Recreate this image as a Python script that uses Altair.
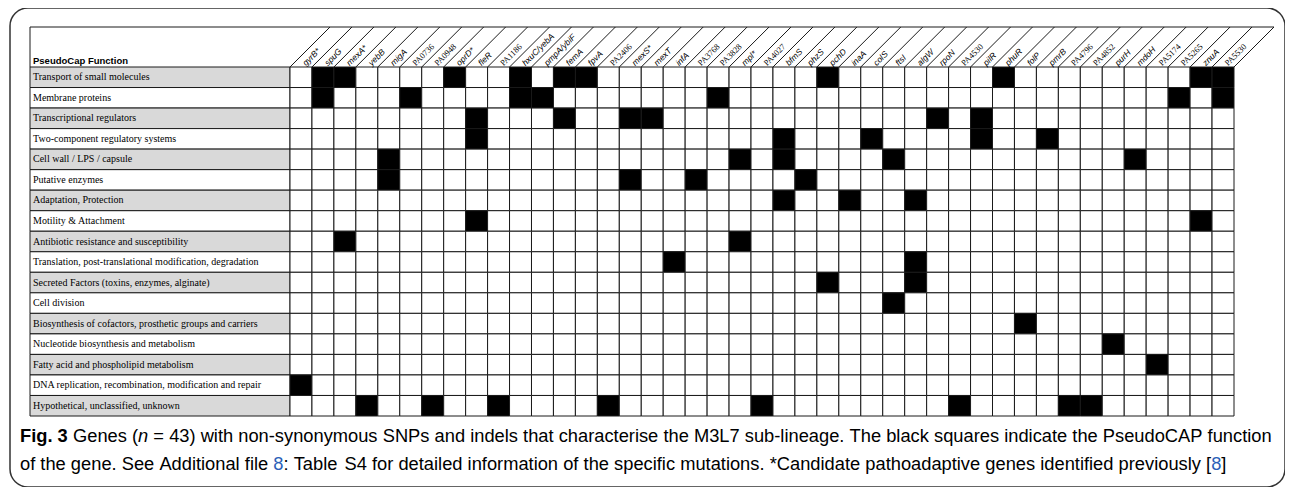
import re
import altair as alt
import pandas as pd

# ---------------- data ----------------
GENES = [
    "gyrB*", "spuG", "mexA*", "yebB", "migA", "PA0736", "PA0948", "oprD*", "fleR",
    "PA1186", "hxuC/yebA", "pmpA/ybiF", "femA", "fpvA", "PA2406", "mexS*", "mexT",
    "infA", "PA3768", "PA3828", "mpl*", "PA4027", "bfmS", "phzS", "pchD", "inaA",
    "colS", "ftsI", "algW", "rpoN", "PA4530", "pilR", "phuR", "folP", "pmrB",
    "PA4796", "PA4852", "purH", "mdoH", "PA5174", "PA5265", "znuA", "PA5530",
]

FUNCTIONS = [
    "Transport of small molecules",
    "Membrane proteins",
    "Transcriptional regulators",
    "Two-component regulatory systems",
    "Cell wall / LPS / capsule",
    "Putative enzymes",
    "Adaptation, Protection",
    "Motility & Attachment",
    "Antibiotic resistance and susceptibility",
    "Translation, post-translational modification, degradation",
    "Secreted Factors (toxins, enzymes, alginate)",
    "Cell division",
    "Biosynthesis of cofactors, prosthetic groups and carriers",
    "Nucleotide biosynthesis and metabolism",
    "Fatty acid and phospholipid metabolism",
    "DNA replication, recombination, modification and repair",
    "Hypothetical, unclassified, unknown",
]

MEMBERS = [
    ["spuG", "mexA*", "oprD*", "hxuC/yebA", "femA", "fpvA", "pchD", "phuR", "znuA", "PA5530"],
    ["spuG", "PA0736", "hxuC/yebA", "pmpA/ybiF", "PA3828", "PA5265", "PA5530"],
    ["fleR", "femA", "mexS*", "mexT", "rpoN", "pilR"],
    ["fleR", "bfmS", "colS", "pilR", "pmrB"],
    ["migA", "mpl*", "bfmS", "ftsI", "mdoH"],
    ["migA", "mexS*", "PA3768", "phzS"],
    ["bfmS", "inaA", "algW"],
    ["fleR", "znuA"],
    ["mexA*", "mpl*"],
    ["infA", "algW"],
    ["pchD", "algW"],
    ["ftsI"],
    ["folP"],
    ["purH"],
    ["PA5174"],
    ["gyrB*"],
    ["yebB", "PA0948", "PA1186", "PA2406", "PA4027", "PA4530", "PA4796", "PA4852"],
]

HEADER_TITLE = "PseudoCap Function"
CAPTION_FIG = "Fig. 3"
# caption pieces: (text, style)
CAPTION_LINE_1 = [
    ("Genes (", "normal"), ("n", "italic"),
    (" = 43) with non-synonymous SNPs and indels that characterise the M3L7 sub-lineage. "
     "The black squares indicate the PseudoCAP function", "normal"),
]
CAPTION_LINE_2 = [
    ("of the gene. See Additional file ", "normal"), ("8", "link"),
    (": Table S4 for detailed information of the specific mutations. "
     "*Candidate pathoadaptive genes identified previously [", "normal"),
    ("8", "link"), ("]", "normal"),
]

# ---------------- layout (pixels inside the framed area) ----------------
W, H = 1275, 479
GRID_LEFT_PX, GRID_TOP_PX = 280, 59
COL_PX = 944 / 43
ROW_PX = 349 / 17
LABEL_LEFT_PX = 20
HEADER_TOP_PX = 19
CAP_SIZE = 18.3
CAP_FONT = "Liberation Sans"
CAP_X1, CAP_X2 = 63, 10
CAP_Y1, CAP_Y2 = 429, 457

n_cols, n_rows = len(GENES), len(FUNCTIONS)
x_dom = [-GRID_LEFT_PX / COL_PX, (W - GRID_LEFT_PX) / COL_PX]
y_dom = [-GRID_TOP_PX / ROW_PX, (H - GRID_TOP_PX) / ROW_PX]
label_left = -(GRID_LEFT_PX - LABEL_LEFT_PX) / COL_PX
header_top = -(GRID_TOP_PX - HEADER_TOP_PX) / ROW_PX
slant = (GRID_TOP_PX - HEADER_TOP_PX) / COL_PX

px_to_u = lambda px: px / COL_PX + x_dom[0]
px_to_v = lambda px: px / ROW_PX + y_dom[0]

xs = alt.Scale(domain=x_dom, nice=False, zero=False)
ys = alt.Scale(domain=y_dom, nice=False, zero=False, reverse=True)
LINE = "#1a1a1a"

# Arial / Liberation Sans advance widths (per 1000 em) for laying caption words end to end
ADV = {}
for chars, w in [("ijl", 222), (" !,./:;I[]ft", 278), ("()-r", 333), ("*", 389),
                 ("Jcksvxyz", 500), ("0123456789abdeghnopquL", 556), ("=", 584),
                 ("FTZ", 611), ("ABEKPSVXY", 667), ("CDHNRUw", 722), ("GOQ", 778),
                 ("Mm", 833), ("W", 944)]:
    for ch in chars:
        ADV[ch] = w
text_px = lambda s: sum(ADV.get(ch, 556) for ch in s) * CAP_SIZE / 1000

# ---------------- tables ----------------
cell_rows = []
for r, f in enumerate(FUNCTIONS):
    for c, g in enumerate(GENES):
        cell_rows.append({"x0": c, "x1": c + 1, "y0": r, "y1": r + 1,
                          "hit": g in MEMBERS[r]})
cells_df = pd.DataFrame(cell_rows)

label_df = pd.DataFrame({
    "name": FUNCTIONS,
    "x0": label_left, "x1": 0.0,
    "y0": list(range(n_rows)),
    "y1": [r + 1 for r in range(n_rows)],
    "ym": [r + 0.5 for r in range(n_rows)],
    "shade": [r % 2 == 0 for r in range(n_rows)],
})

line_rows = [{"x0": j, "y0": 0.0, "x1": j + slant, "y1": header_top} for j in range(n_cols + 1)]
line_rows.append({"x0": label_left, "y0": header_top, "x1": n_cols + slant, "y1": header_top})
line_rows.append({"x0": label_left, "y0": header_top, "x1": label_left, "y1": 0.0})
lines_df = pd.DataFrame(line_rows)

gene_df = pd.DataFrame({"name": GENES, "gx": [c + 0.5 for c in range(n_cols)], "gy": 0.0})
gene_df["is_pa"] = gene_df["name"].str.match(r"^PA\d")

cap_rows = []
for pieces, x_start, y_px in [(CAPTION_LINE_1, CAP_X1, CAP_Y1), (CAPTION_LINE_2, CAP_X2, CAP_Y2)]:
    xp = x_start
    for t, style in pieces:
        for m in re.finditer(r"\S+", t):
            cap_rows.append({"t": m.group(), "style": style,
                             "u": px_to_u(xp + text_px(t[:m.start()])), "v": px_to_v(y_px)})
        xp += text_px(t)
cap_df = pd.DataFrame(cap_rows)
fig_df = pd.DataFrame({"t": [CAPTION_FIG], "u": [px_to_u(CAP_X2)], "v": [px_to_v(CAP_Y1)]})

# ---------------- marks ----------------
X = lambda f: alt.X(f, type="quantitative", scale=xs, axis=None)
Y = lambda f: alt.Y(f, type="quantitative", scale=ys, axis=None)

label_bg = alt.Chart(label_df).mark_rect(stroke=LINE, strokeWidth=1).encode(
    x=X("x0"), x2="x1", y=Y("y0"), y2="y1",
    color=alt.condition("datum.shade", alt.value("#d9d9d9"), alt.value("white")),
)
label_txt = alt.Chart(label_df).mark_text(
    align="left", baseline="middle", dx=3, font="Liberation Serif", fontSize=10, color="black"
).encode(x=X("x0"), y=Y("ym"), text="name:N")

cells = alt.Chart(cells_df).mark_rect(stroke=LINE, strokeWidth=1).encode(
    x=X("x0"), x2="x1", y=Y("y0"), y2="y1",
    color=alt.condition("datum.hit", alt.value("black"), alt.value("white")),
)

lines = alt.Chart(lines_df).mark_rule(color=LINE, strokeWidth=1).encode(
    x=X("x0"), y=Y("y0"), x2="x1", y2="y1"
)

gene_it = alt.Chart(gene_df[~gene_df["is_pa"]]).mark_text(
    align="left", baseline="middle", angle=315, dx=4,
    font="Liberation Sans", fontStyle="italic", fontSize=8.5, color="black"
).encode(x=X("gx"), y=Y("gy"), text="name:N")
gene_pa = alt.Chart(gene_df[gene_df["is_pa"]]).mark_text(
    align="left", baseline="middle", angle=315, dx=4,
    font="Liberation Serif", fontSize=8.5, color="black"
).encode(x=X("gx"), y=Y("gy"), text="name:N")

title_df = pd.DataFrame({"t": [HEADER_TITLE], "x": [label_left], "y": [-0.16]})
head_title = alt.Chart(title_df).mark_text(
    align="left", baseline="alphabetic", dx=3, font="Liberation Sans",
    fontWeight="bold", fontSize=9.5, color="black"
).encode(x=X("x"), y=Y("y"), text="t:N")

cap_fig = alt.Chart(fig_df).mark_text(
    align="left", baseline="middle", font=CAP_FONT, fontWeight="bold",
    fontSize=CAP_SIZE, color="black"
).encode(x=X("u"), y=Y("v"), text="t:N")
cap_norm = alt.Chart(cap_df[cap_df["style"] == "normal"]).mark_text(
    align="left", baseline="middle", font=CAP_FONT, fontSize=CAP_SIZE, color="black"
).encode(x=X("u"), y=Y("v"), text="t:N")
cap_ital = alt.Chart(cap_df[cap_df["style"] == "italic"]).mark_text(
    align="left", baseline="middle", font=CAP_FONT, fontStyle="italic",
    fontSize=CAP_SIZE, color="black"
).encode(x=X("u"), y=Y("v"), text="t:N")
cap_link = alt.Chart(cap_df[cap_df["style"] == "link"]).mark_text(
    align="left", baseline="middle", font=CAP_FONT, fontSize=CAP_SIZE, color="#2b5fb8"
).encode(x=X("u"), y=Y("v"), text="t:N")

chart = alt.layer(
    label_bg, cells, lines, label_txt, gene_it, gene_pa, head_title,
    cap_fig, cap_norm, cap_ital, cap_link
).properties(
    width=W, height=H, autosize="none",
    padding={"left": 2, "top": 0, "right": 0, "bottom": 0},
).configure_view(
    stroke="#333333", strokeWidth=1.5, cornerRadius=18
)

chart.save("out.html", embed_options={"renderer": "svg", "actions": False})
